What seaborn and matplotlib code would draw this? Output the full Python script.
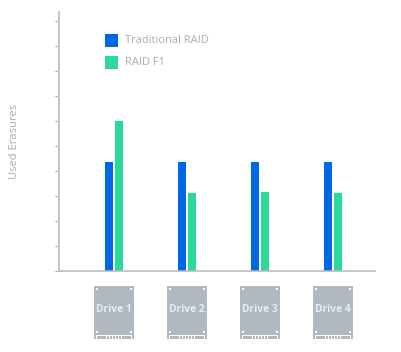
#!/usr/bin/env python3

import pandas as pd
from matplotlib import pyplot as plt
from matplotlib.patches import Rectangle
import seaborn as sns

drives = ['Drive 1', 'Drive 2', 'Drive 3', 'Drive 4']
traditional = [4.36, 4.36, 4.36, 4.36]
raid_f1 = [6.0, 3.12, 3.16, 3.12]
series_names = ['Traditional RAID', 'RAID F1']
y_ticks = [0, 1, 2, 3, 4, 5, 6, 7, 8, 9, 10]

W, H = 402, 352
GREY = '#aebabf'
TEXT = '#a3aeb3'

sns.set_style('white')
plt.rcParams['font.family'] = ['Open Sans', 'DejaVu Sans']

df = pd.DataFrame({
    'drive': drives * 2,
    'value': traditional + raid_f1,
    'series': [series_names[0]] * 4 + [series_names[1]] * 4,
})

fig = plt.figure(figsize=(W / 100, H / 100), dpi=100)
ax = fig.add_axes([59.5 / W, 1 - 271 / H, 315.5 / W, 259 / H])

sns.barplot(data=df, x='drive', y='value', hue='series', ax=ax,
            palette=['#0068e6', '#2bd99d'], width=20 / 73, gap=0.15,
            saturation=1, legend=False, linewidth=0)

ax.set_xlim((59.5 - 114) / 73, (375 - 114) / 73)
ax.set_ylim(0, 259 / 25)
ax.set_xlabel('')
ax.set_ylabel('')
ax.set_xticks([])
ax.set_yticks([])
for side in ['top', 'right']:
    ax.spines[side].set_visible(False)
for side in ['left', 'bottom']:
    ax.spines[side].set_color(GREY)
    ax.spines[side].set_linewidth(1.1)

# small ticks, detached from the axis line
ax.hlines(y_ticks, -4.5 / 315.5, -2.5 / 315.5, transform=ax.get_yaxis_transform(),
          color='#8f9ba0', lw=0.8, clip_on=False)

fig.text(15 / W, 1 - 141 / H, 'Used Erasures', rotation=90, color=TEXT,
         fontsize=8, ha='center', va='center')

# legend
for y, colour, name in zip([34, 56], ['#0068e6', '#2bd99d'], series_names):
    fig.add_artist(Rectangle((105 / W, 1 - (y + 13) / H), 13 / W, 13 / H,
                             transform=fig.transFigure, color=colour, lw=0))
    fig.text(125 / W, 1 - (y + 6.5) / H, name, color=TEXT, fontsize=7.9, va='center')


def box(x, y, w, h, colour='white'):
    fig.add_artist(Rectangle((x / W, 1 - (y + h) / H), w / W, h / H,
                             transform=fig.transFigure, color=colour, lw=0))


# drive icons under each group
for i, name in enumerate(drives):
    left = 94 + 73 * i
    box(left, 286, 40, 53, GREY)
    for dx, dy in [(2, 2), (36, 2), (2, 45), (36, 45)]:
        box(left + dx, 286 + dy, 2, 2)
    # connector at the bottom edge, open underneath
    box(left + 2, 335, 36, 1)
    box(left + 2, 335, 1, 4)
    box(left + 37, 335, 1, 4)
    for dx in [12, 15, 18, 21, 24, 27]:
        box(left + dx, 335, 1, 4)
    fig.text((left + 20) / W, 1 - 309 / H, name, color='#e8ecee', fontsize=7.4,
             fontweight='bold', ha='center', va='center')

plt.savefig('out.png', dpi=100)
